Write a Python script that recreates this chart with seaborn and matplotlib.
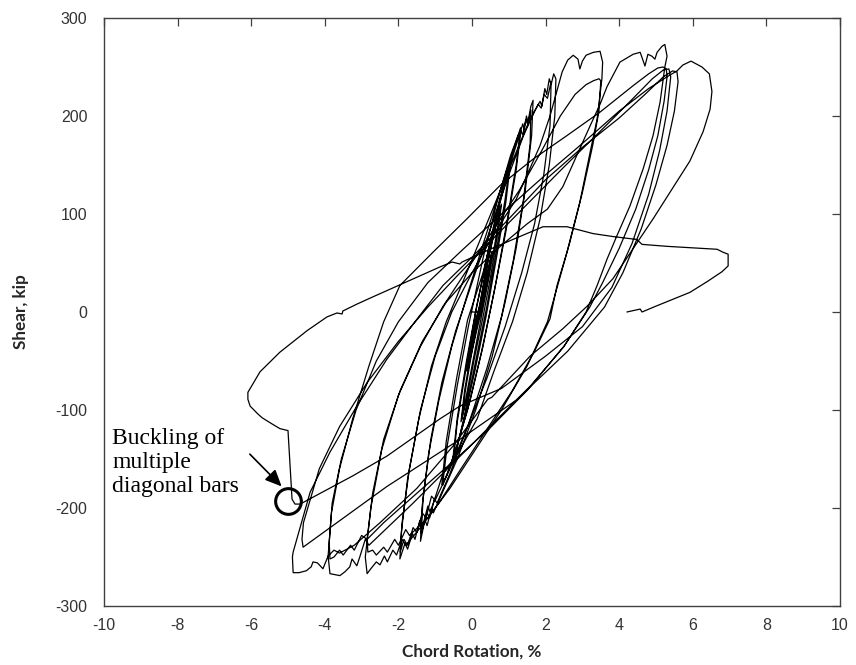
import numpy as np
import pandas as pd
import matplotlib
matplotlib.use("Agg")
import matplotlib.pyplot as plt
import seaborn as sns

# ---------------- data (rotation %, shear kip) ----------------
rot_025 = [0.20, 0.35, 0.50, 0.55, 0.45, 0.30, 0.15, 0.00, -0.12, -0.15, -0.05, 0.10, 0.25, 0.40, 0.53, 0.45, 0.30, 0.12, -0.03, -0.13, -0.05, 0.08, 0.22]
shr_025 = [0, 28, 55, 62, 40, 12, -12, -38, -55, -60, -40, -12, 10, 35, 58, 36, 8, -20, -45, -58, -35, -10, 8]

rot_050 = [0.45, 0.65, 0.78, 0.68, 0.48, 0.28, 0.05, -0.15, -0.28, -0.18, 0.00, 0.20, 0.42, 0.62, 0.80, 0.70, 0.50, 0.30, 0.05, -0.15, -0.30, -0.20, 0.00, 0.20]
shr_050 = [55, 88, 108, 82, 40, 0, -45, -85, -110, -80, -40, 0, 50, 85, 110, 80, 35, -5, -50, -90, -112, -80, -35, 5]

rot_075 = [0.45, 0.75, 0.95, 1.02, 0.90, 0.65, 0.40, 0.10, -0.20, -0.42, -0.50, -0.40, -0.15, 0.10, 0.45, 0.75, 0.97, 1.04, 0.92, 0.65, 0.38, 0.08, -0.22, -0.45, -0.52, -0.40, -0.15, 0.12]
shr_075 = [60, 112, 140, 150, 115, 60, 5, -50, -105, -140, -150, -112, -55, 0, 65, 115, 143, 150, 112, 52, -5, -60, -110, -145, -150, -108, -50, 5]

rot_100 = [0.50, 0.85, 1.10, 1.25, 1.32, 1.20, 0.95, 0.65, 0.30, -0.05, -0.40, -0.65, -0.80, -0.68, -0.40, -0.10, 0.30, 0.70, 1.05, 1.25, 1.33, 1.20, 0.92, 0.60, 0.25, -0.12, -0.45, -0.70, -0.82, -0.70, -0.42, -0.12]
shr_100 = [70, 128, 162, 180, 188, 150, 92, 30, -35, -90, -135, -163, -177, -138, -75, -15, 55, 115, 160, 180, 185, 145, 82, 20, -42, -100, -142, -168, -176, -132, -68, -8]

rot_150 = [0.30, 0.75, 1.10, 1.30, 1.38, 1.42, 1.48, 1.52, 1.60, 1.66, 1.62, 1.45, 1.20, 0.90, 0.55, 0.10, -0.40, -0.85, -1.05, -1.10, -1.22, -1.28, -1.40, -1.36, -1.18, -0.90, -0.55, -0.15,
           0.35, 0.80, 1.15, 1.32, 1.38, 1.46, 1.52, 1.60, 1.58, 1.40, 1.12, 0.80, 0.40, -0.10, -0.60, -0.95, -1.02, -1.15, -1.22, -1.38, -1.33, -1.12, -0.82, -0.45]
shr_150 = [40, 110, 158, 182, 192, 186, 200, 194, 210, 216, 180, 125, 65, 10, -45, -100, -150, -188, -205, -200, -218, -212, -234, -200, -145, -90, -35, 15,
           75, 128, 168, 185, 181, 196, 191, 206, 172, 115, 52, -5, -58, -115, -165, -195, -191, -210, -205, -226, -190, -130, -72, -20]

rot_200 = [0.00, 0.50, 1.00, 1.40, 1.70, 1.85, 1.90, 1.98, 2.03, 2.10, 2.15, 2.22, 2.28, 2.25, 2.10, 1.85, 1.50, 1.10, 0.60, 0.14, -0.40, -0.79, -1.05, -1.14, -1.20, -1.35, -1.42, -1.55, -1.62, -1.75, -1.82, -1.96, -1.92, -1.75, -1.45, -1.10, -0.70, -0.20,
           0.40, 1.00, 1.50, 1.80, 1.88, 1.96, 2.05, 2.15, 2.12, 1.95, 1.70, 1.35, 0.90, 0.40, -0.10, -0.60, -1.00, -1.10, -1.25, -1.35, -1.50, -1.60, -1.75, -1.85, -1.95, -1.90, -1.70, -1.40, -1.00, -0.55]
shr_200 = [30, 85, 140, 180, 205, 215, 210, 228, 222, 238, 232, 243, 238, 200, 150, 95, 40, -10, -60, -109, -145, -165, -195, -204, -198, -220, -213, -232, -226, -242, -236, -252, -225, -170, -110, -55, -10, 35,
           90, 145, 190, 212, 208, 222, 218, 235, 190, 140, 90, 40, -15, -68, -115, -160, -192, -188, -210, -205, -225, -220, -238, -232, -245, -215, -160, -100, -45, 0]

rot_300 = [0.00, 0.60, 1.20, 1.50, 1.85, 2.12, 2.31, 2.45, 2.60, 2.75, 2.88, 2.93, 3.00, 3.10, 3.30, 3.48, 3.55, 3.53, 3.40, 3.21, 2.93, 2.58, 2.31, 2.12, 1.70, 1.10, 0.40, -0.30, -0.90, -1.40, -1.80, -1.90, -2.05, -2.15, -2.30, -2.38, -2.50, -2.60, -2.75, -2.85, -2.90, -2.75, -2.45, -2.00, -1.40, -0.80,
           -0.10, 0.60, 1.30, 1.90, 2.40, 2.80, 3.10, 3.30, 3.45, 3.50, 3.45, 3.28, 3.00, 2.65, 2.35, 2.05, 1.50, 0.80, 0.10, -0.60, -1.20, -1.70, -1.80, -2.00, -2.10, -2.30, -2.40, -2.60, -2.70, -2.83, -2.85, -2.70, -2.40, -1.95, -1.35, -0.70]
shr_300 = [40, 80, 115, 140, 170, 200, 226, 245, 257, 262, 258, 248, 256, 262, 265, 266, 255, 238, 197, 163, 112, 61, 27, -7, -40, -80, -120, -160, -195, -220, -238, -232, -248, -243, -255, -249, -258, -255, -262, -267, -250, -200, -140, -85, -35, 5,
           45, 85, 125, 165, 200, 222, 232, 236, 238, 236, 205, 170, 122, 70, 30, -10, -55, -100, -140, -180, -210, -228, -222, -238, -232, -245, -240, -248, -243, -245, -232, -185, -130, -80, -30, 10]

rot_500 = [0.00, 0.80, 1.50, 2.05, 2.47, 2.85, 3.21, 3.48, 3.67, 4.02, 4.38, 4.57, 4.70, 4.78, 4.89, 4.97, 5.03, 5.16, 5.24, 5.30, 5.24, 5.11, 4.92, 4.65, 4.29, 3.94, 3.67, 3.40, 3.10, 2.50, 1.60, 0.80, 0.00, -0.80, -1.60, -2.30, -2.80, -2.90, -3.05, -3.13, -3.26, -3.32, -3.45, -3.59, -3.86, -3.91,
           -3.82, -3.60, -3.25, -2.80, -2.40, -1.96, -1.06, -0.14, 0.76, 1.66, 2.58, 3.48, 4.38, 4.80, 5.05, 5.19, 5.28, 5.30, 5.22, 5.05, 4.80, 4.45, 4.00, 3.55, 3.20, 2.50, 1.50, 0.50, -0.50, -1.50, -2.40, -2.85, -3.00, -3.20, -3.30, -3.50, -3.60, -3.75, -3.86, -3.88]
shr_500 = [40, 68, 90, 105, 128, 160, 190, 212, 230, 255, 263, 265, 251, 263, 261, 258, 265, 271, 273, 261, 250, 214, 180, 146, 108, 78, 54, 27, 0, -35, -75, -105, -135, -165, -195, -220, -238, -232, -250, -259, -252, -260, -265, -269, -267, -249,
           -205, -160, -110, -55, -10, 27, 61, 95, 129, 156, 180, 204, 231, 243, 249, 250, 248, 240, 215, 180, 145, 105, 65, 30, 5, -35, -80, -118, -152, -185, -215, -232, -228, -243, -238, -248, -243, -250, -252, -235]

rot_600 = [-3.80, -3.55, -3.15, -2.60, -2.00, -1.20, -0.30, 0.80, 2.00, 3.00, 4.00, 4.80, 5.30, 5.57, 5.73, 5.95, 6.25, 6.45, 6.52, 6.47, 6.28, 5.92, 4.92, 3.83, 3.13, 2.47, 1.58, 0.54, 0.43, -0.52, -1.50, -2.50, -3.20, -3.60, -3.75, -3.91, -4.05, -4.20, -4.32, -4.37, -4.50, -4.70, -4.86, -4.88,
           -4.86, -4.40, -3.86, -3.13, -2.31, -1.49, -0.79, 0.03, 1.00, 2.00, 3.00, 4.00, 4.70, 5.20, 5.45, 5.57, 5.60, 5.50, 5.30, 5.00, 4.60, 4.10, 3.60, 2.60, 1.20, -0.33, -2.31, -3.78, -4.59,
           -4.62, -4.58, -4.15, -3.60, -2.85, -2.00, -1.20, -0.45, 0.50, 1.50, 2.50, 3.50, 4.30, 4.90, 5.20, 5.35, 5.40, 5.30, 5.10, 4.80, 4.35, 3.80, 3.00, 2.00, 0.80, -0.33, -0.87, -2.31, -3.23, -4.67]
shr_600 = [-195, -150, -100, -50, -10, 30, 62, 100, 140, 172, 205, 228, 240, 246, 252, 256, 250, 243, 225, 207, 184, 154, 95, 34, 6, -17, -45, -87, -89, -137, -180, -215, -238, -246, -243, -249, -262, -256, -255, -260, -264, -266, -266, -250,
           -245, -184, -143, -96, -48, -7, 27, 57, 95, 135, 168, 198, 222, 240, 246, 245, 235, 205, 170, 130, 85, 40, 5, -40, -90, -130, -178, -218, -240,
           -232, -215, -160, -117, -72, -30, 5, 35, 72, 110, 148, 185, 215, 238, 247, 248, 240, 205, 165, 120, 70, 25, -15, -45, -78, -96, -109, -147, -167, -196]

# final excursion: buckling of diagonal bars, then last (degraded) positive half cycle
rot_final = [-4.81, -4.89, -5.00, -5.22, -5.40, -5.57, -5.70, -5.82, -6.03, -6.09, -6.09, -5.76, -5.22, -4.48, -3.94, -3.67, -3.53, -3.51, -3.13, -2.72, -0.87, -0.54, -0.33, -0.27, 0.08, 0.49, 1.11, 1.93, 2.58, 3.29, 3.83, 4.48, 4.62, 5.30, 6.20, 6.66, 6.82, 6.96, 6.96, 6.79, 6.39, 5.92, 5.00, 4.62, 4.57, 4.21]
shr_final = [-196, -191, -121, -119, -115, -111, -108, -104, -96, -89, -82, -61, -41, -19, -5, -1, -2, 1, 8, 15, 46, 51, 49, 51, 57, 64, 74, 87, 87, 80, 77, 74, 69, 67, 65, 64, 61, 59, 47, 41, 31, 20, 6, 0, 3, 0]

# annotation
note_text = "Buckling of\nmultiple\ndiagonal bars"
note_circle = (-5.0, -193)
arrow_tail = (-6.09, -143)
arrow_head = (-5.12, -180)

x_ticks = list(range(-10, 11, 2))
y_ticks = list(range(-300, 301, 100))

# ---------------- build path ----------------
rot = [0.0] + rot_025 + rot_050 + rot_075 + rot_100 + rot_150 + rot_200 + rot_300 + rot_500 + rot_600 + rot_final
shr = [0.0] + shr_025 + shr_050 + shr_075 + shr_100 + shr_150 + shr_200 + shr_300 + shr_500 + shr_600 + shr_final
df = pd.DataFrame({"step": np.arange(len(rot)), "rotation": rot, "shear": shr})

# ---------------- plot ----------------
sns.set_style("white")
plt.rcParams["font.family"] = ["Liberation Sans", "DejaVu Sans"]
plt.rcParams["axes.unicode_minus"] = False

fig = plt.figure(figsize=(8.56, 6.65), dpi=100)
ax = fig.add_axes([104 / 856, 1 - 606 / 665, 736 / 856, 588 / 665])

sns.lineplot(data=df, x="rotation", y="shear", sort=False, estimator=None,
             color="black", linewidth=0.9, ax=ax)

ax.set_xlim(-10, 10)
ax.set_ylim(-300, 300)
ax.set_xticks(x_ticks)
ax.set_yticks(y_ticks)
ax.tick_params(direction="in", length=6, width=0.9, color="#404040",
               top=True, right=True, labelsize=11.5, labelcolor="#333333")
ax.tick_params(axis="y", pad=12)
ax.tick_params(axis="x", pad=9)
for s in ax.spines.values():
    s.set_visible(True)
    s.set_color("#404040")
    s.set_linewidth(1.0)

lab_font = dict(family=["Lato", "DejaVu Sans"], weight="bold", size=12.3, color="#262626")
ax.set_xlabel("Chord Rotation, %", labelpad=7, **lab_font)
ax.set_ylabel("Shear, kip", labelpad=19, **lab_font)

ax.text(-9.78, -118, note_text, family=["Liberation Serif"], fontsize=17, va="top",
        ha="left", linespacing=1.2, color="black")
ax.annotate("", xy=arrow_head, xytext=arrow_tail,
            arrowprops=dict(arrowstyle="-|>,head_length=1.0,head_width=0.45", color="black", lw=1.2))
ax.plot([note_circle[0]], [note_circle[1]], marker="o", ms=18.5, mfc="none", mec="black", mew=2.2)

fig.savefig("out.png", dpi=100)
